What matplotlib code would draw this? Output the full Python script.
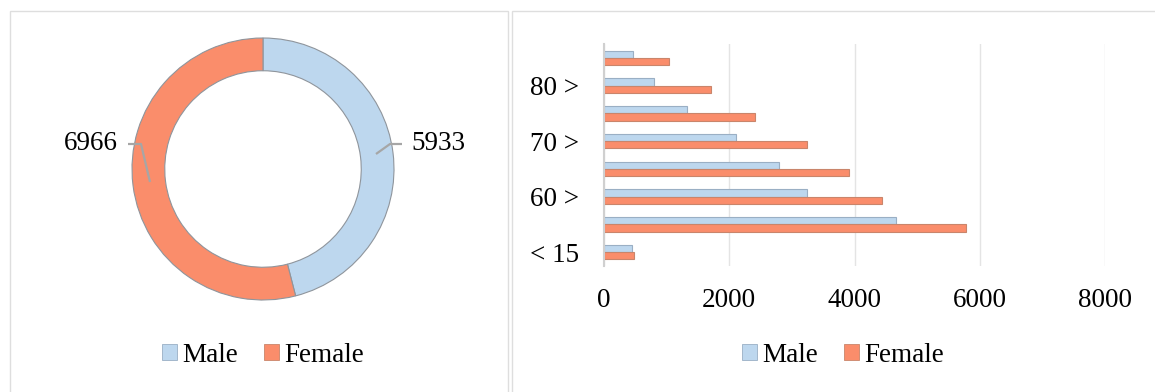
import matplotlib
matplotlib.use("Agg")
import matplotlib.pyplot as plt
from matplotlib.patches import Rectangle, Patch
import numpy as np

# ---- data ----
gender_labels = ["Male", "Female"]
gender_totals = [5933, 6966]

age_groups = ["< 15", "15 >", "60 >", "65 >", "70 >", "75 >", "80 >", "85 >"]
male_counts = [440, 4660, 3245, 2790, 2100, 1326, 800, 460]
female_counts = [475, 5787, 4442, 3908, 3245, 2415, 1705, 1045]
x_ticks = [0, 2000, 4000, 6000, 8000]

MALE_C = "#BDD7EE"
FEMALE_C = "#FA8D6B"
MALE_E = "#9AAFC4"
FEMALE_E = "#C9856B"

plt.rcParams["font.family"] = ["Liberation Serif", "DejaVu Serif"]

W, H = 1155, 392
fig = plt.figure(figsize=(W / 100, H / 100), dpi=100)

def fx(px):
    return px / W

def fy(py):
    return 1 - py / H

# panel borders
fig.patches.append(Rectangle((fx(9.5), fy(420)), fx(498), (420 - 11) / H,
                             transform=fig.transFigure, fill=False,
                             edgecolor="#dedede", lw=1))
fig.patches.append(Rectangle((fx(512), fy(420)), fx(700), (420 - 11) / H,
                             transform=fig.transFigure, fill=False,
                             edgecolor="#dedede", lw=1))

# ---- donut ----
R = 131.0
cx, cy = 263.0, 169.0
ax1 = fig.add_axes([fx(10), 0, fx(498), (392 - 12) / H])
ax1.pie(gender_totals, colors=[MALE_C, FEMALE_C], startangle=90,
        counterclock=False, radius=1,
        wedgeprops=dict(width=0.25, edgecolor="#8f959c", linewidth=0.8))
ax1.set_aspect("auto")
ax1.set_xlim((10 - cx) / R, (508 - cx) / R)
ax1.set_ylim((0 - (392 - cy)) / R, ((392 - 12) - (392 - cy)) / R)
ax1.axis("off")

def dx(px):
    return (px - cx) / R

def dy(py):
    return ((392 - py) - (392 - cy)) / R

# leader lines and labels
ax1.plot([dx(376), dx(390), dx(402)], [dy(154), dy(144), dy(144)],
         color="#a6a6a6", lw=1.6, solid_capstyle="butt")
ax1.text(dx(411), dy(144), f"{gender_totals[0]}", ha="left", va="center",
         fontsize=19.5)
ax1.plot([dx(128), dx(141), dx(150)], [dy(144), dy(144), dy(182)],
         color="#a6a6a6", lw=1.6, solid_capstyle="butt")
ax1.text(dx(118), dy(144), f"{gender_totals[1]}", ha="right", va="center",
         fontsize=19.5)

handles = [Patch(facecolor=MALE_C, edgecolor=MALE_E, lw=0.6),
           Patch(facecolor=FEMALE_C, edgecolor=FEMALE_E, lw=0.6)]
legend_kw = dict(loc="center", ncol=2, frameon=False, fontsize=19.5,
                 handlelength=0.55, handleheight=0.55, handletextpad=0.2,
                 columnspacing=0.95, borderpad=0.1)
fig.legend(handles, gender_labels, bbox_to_anchor=(fx(263), fy(355)),
           **legend_kw)

# ---- bar chart ----
ax2 = fig.add_axes([fx(604), fy(266), fx(501), (266 - 44) / H])
y = np.arange(len(age_groups))
bh = 0.265
ax2.barh(y + bh / 2, male_counts, height=bh, color=MALE_C,
         edgecolor=MALE_E, linewidth=0.8, zorder=3)
ax2.barh(y - bh / 2, female_counts, height=bh, color=FEMALE_C,
         edgecolor=FEMALE_E, linewidth=0.8, zorder=3)
ax2.set_ylim(-0.5, len(age_groups) - 0.5)
ax2.set_xlim(0, 8000)
ax2.set_xticks(x_ticks)
ax2.set_xticklabels([str(v) for v in x_ticks], fontsize=19.5)
shown = list(range(0, len(age_groups), 2))
ax2.set_yticks(shown)
ax2.set_yticklabels([age_groups[i] for i in shown], fontsize=19.5)
ax2.tick_params(axis="both", length=0)
ax2.tick_params(axis="y", pad=18)
ax2.tick_params(axis="x", pad=16)
for s in ["top", "right", "bottom"]:
    ax2.spines[s].set_visible(False)
ax2.spines["left"].set_color("#d0d0d0")
ax2.spines["left"].set_linewidth(1.5)
ax2.spines["left"].set_zorder(4)
ax2.grid(axis="x", color="#e4e4e4", lw=1, zorder=0)
ax2.set_axisbelow(True)

fig.legend(handles, gender_labels, bbox_to_anchor=(fx(843), fy(355)),
           **legend_kw)

fig.savefig("out.png", dpi=100)
